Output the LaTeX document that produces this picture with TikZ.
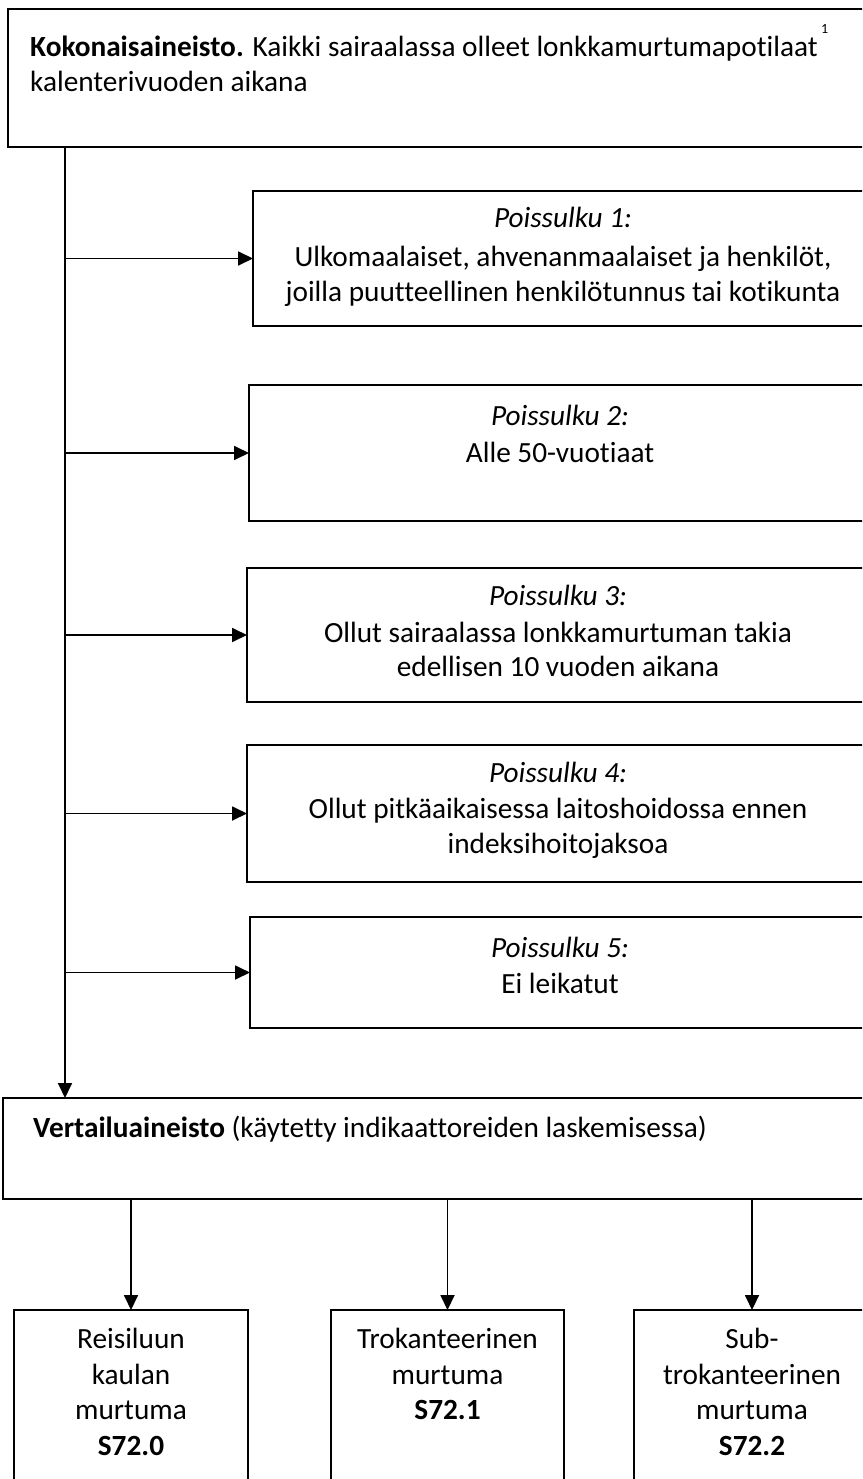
\documentclass[tikz,border=0pt]{standalone}
\usepackage{fontspec}
\setmainfont[Ligatures=CommonOff]{Carlito}
\usetikzlibrary{arrows.meta}
\begin{document}
\begin{tikzpicture}[x=1pt,y=-1pt,
  box/.style={draw, line width=1.8pt, inner sep=0pt, outer sep=0pt, anchor=north west},
  txt/.style={inner sep=0pt, anchor=base, font=\fontsize{29.3}{35}\selectfont},
  ltxt/.style={txt, anchor=base west},
  arr/.style={line width=1.8pt, -{Triangle[length=15pt,width=14pt]}}]
\useasboundingbox (0,0) rectangle (862,1479);
\clip (0,0) rectangle (862,1479);
\fill[white] (0,0) rectangle (862,1479);
% boxes
\node[box, minimum width=872pt, minimum height=138pt] (top) at (8,9) {};
\node[box, minimum width=620pt, minimum height=135pt] (p1) at (253,191) {};
\node[box, minimum width=622pt, minimum height=136pt] (p2) at (249,385) {};
\node[box, minimum width=624pt, minimum height=134pt] (p3) at (247,568) {};
\node[box, minimum width=624pt, minimum height=137pt] (p4) at (247,745) {};
\node[box, minimum width=622pt, minimum height=111pt] (p5) at (250,917) {};
\node[box, minimum width=877pt, minimum height=101pt] (verti) at (3,1098) {};
\node[box, minimum width=234pt, minimum height=200pt] (b1) at (14,1310) {};
\node[box, minimum width=233pt, minimum height=200pt] (b2) at (331,1310) {};
\node[box, minimum width=236pt, minimum height=200pt] (b3) at (634,1310) {};
% texts
\node[ltxt] (t0a) at (30,57) {\textbf{Kokonaisaineisto.} Kaikki sairaalassa olleet lonkkamurtumapotilaat};
\node[inner sep=0pt, anchor=base west, font=\fontsize{14}{16}\selectfont] (t0s) at (821,34) {1};
\node[ltxt] (t0b) at (30,92) {kalenterivuoden aikana};
\node[txt] (t1a) at (563,228) {\textit{Poissulku 1:}};
\node[txt] (t1b) at (563,266) {Ulkomaalaiset, ahvenanmaalaiset ja henkilöt,};
\node[txt] (t1c) at (563,301) {joilla puutteellinen henkilötunnus tai kotikunta};
\node[txt] (t2a) at (560,425) {\textit{Poissulku 2:}};
\node[txt] (t2b) at (560,462) {Alle 50-vuotiaat};
\node[txt] (t3a) at (558,605) {\textit{Poissulku 3:}};
\node[txt] (t3b) at (558,642) {Ollut sairaalassa lonkkamurtuman takia};
\node[txt] (t3c) at (558,676) {edellisen 10 vuoden aikana};
\node[txt] (t4a) at (558,782) {\textit{Poissulku 4:}};
\node[txt] (t4b) at (558,818) {Ollut pitkäaikaisessa laitoshoidossa ennen};
\node[txt] (t4c) at (558,853) {indeksihoitojaksoa};
\node[txt] (t5a) at (560,957) {\textit{Poissulku 5:}};
\node[txt] (t5b) at (560,993) {Ei leikatut};
\node[ltxt] (tv) at (33,1137) {\textbf{Vertailuaineisto} (käytetty indikaattoreiden laskemisessa)};
\node[txt] (b1a) at (131,1348) {Reisiluun};
\node[txt] (b1b) at (131,1384) {kaulan};
\node[txt] (b1c) at (131,1419) {murtuma};
\node[txt] (b1d) at (131,1455) {\textbf{S72.0}};
\node[txt] (b2a) at (447.5,1348) {Trokanteerinen};
\node[txt] (b2b) at (447.5,1384) {murtuma};
\node[txt] (b2c) at (447.5,1419) {\textbf{S72.1}};
\node[txt] (b3a) at (752,1348) {Sub-};
\node[txt] (b3b) at (752,1384) {trokanteerinen};
\node[txt] (b3c) at (752,1419) {murtuma};
\node[txt] (b3d) at (752,1455) {\textbf{S72.2}};
% connectors
\coordinate (trunk) at (65,147);
\draw[arr] (trunk) -- (trunk |- verti.north);
\foreach \p in {p1,p2,p3,p4,p5}
  \draw[arr] (trunk |- \p.west) -- (\p.west);
\foreach \b in {b1,b2,b3}
  \draw[arr] (\b.north |- verti.south) -- (\b.north);
\end{tikzpicture}
\end{document}
